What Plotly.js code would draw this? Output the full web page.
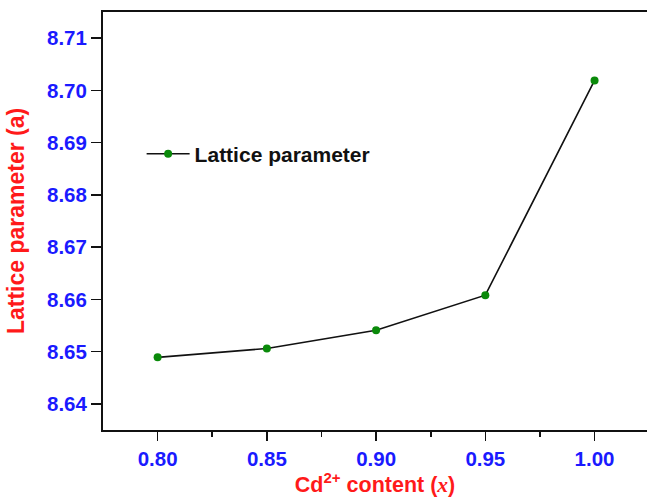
<!DOCTYPE html>
<html>
<head>
<meta charset="utf-8">
<script src="https://cdn.plot.ly/plotly-3.0.1.min.js"></script>
<style>html,body{margin:0;padding:0;background:#fff;}#chart{width:647px;height:497px;}</style>
</head>
<body>
<div id="chart"></div>
<script>
var cdContent = [0.80, 0.85, 0.90, 0.95, 1.00];
var latticeParam = [8.6489, 8.6506, 8.6541, 8.6608, 8.7019];
var xTickVals = [0.80, 0.85, 0.90, 0.95, 1.00];
var xTickText = ["0.80", "0.85", "0.90", "0.95", "1.00"];
var yTickVals = [8.64, 8.65, 8.66, 8.67, 8.68, 8.69, 8.70, 8.71];
var yTickText = ["8.64", "8.65", "8.66", "8.67", "8.68", "8.69", "8.70", "8.71"];

var fontFam = '"Liberation Sans", Arial, Helvetica, sans-serif';

var trace = {
  x: cdContent,
  y: latticeParam,
  type: 'scatter',
  mode: 'lines+markers',
  name: '<b>Lattice parameter</b>',
  line: {color: '#111111', width: 1.6},
  marker: {color: '#0a8a0a', size: 8}
};

var layout = {
  width: 647,
  height: 497,
  margin: {l: 103, r: 0, t: 12, b: 67, pad: 0},
  paper_bgcolor: '#ffffff',
  plot_bgcolor: '#ffffff',
  font: {family: fontFam, color: '#000000'},
  showlegend: true,
  legend: {
    x: 0.071, y: 0.66, xanchor: 'left', yanchor: 'middle',
    bgcolor: 'rgba(0,0,0,0)',
    font: {family: fontFam, size: 21, color: '#111111'},
    itemwidth: 43
  },
  xaxis: {
    range: [0.775, 1.024],
    tickvals: xTickVals,
    ticktext: xTickText,
    ticks: 'outside',
    ticklen: 9,
    tickwidth: 1.6,
    tickcolor: '#111111',
    showline: true,
    linecolor: '#111111',
    linewidth: 2,
    mirror: true,
    showgrid: false,
    zeroline: false,
    tickfont: {family: fontFam, size: 20.5, color: '#1a1aff', weight: 'bold'},
    minor: {tickvals: [0.825, 0.875, 0.925, 0.975], ticks: 'outside', ticklen: 5, tickwidth: 1.6, tickcolor: '#111111'},
    title: {
      text: '<b>Cd<sup>2+</sup> content (<span style="font-family:\'Liberation Serif\', \'Times New Roman\', serif"><i>x</i></span>)</b>',
      font: {family: fontFam, size: 21.5, color: '#ff1a1a'},
      standoff: 10
    }
  },
  yaxis: {
    range: [8.635, 8.715],
    tickvals: yTickVals,
    ticktext: yTickText,
    ticks: 'outside',
    ticklen: 10,
    tickwidth: 1.6,
    tickcolor: '#111111',
    showline: true,
    linecolor: '#111111',
    linewidth: 2,
    mirror: false,
    showgrid: false,
    zeroline: false,
    tickfont: {family: fontFam, size: 20.5, color: '#1a1aff', weight: 'bold'},
    title: {
      text: '<b>Lattice parameter (a)</b>',
      font: {family: fontFam, size: 23, color: '#ff1a1a'},
      standoff: 16
    }
  }
};

Plotly.newPlot('chart', [trace], layout, {displayModeBar: false, staticPlot: true});
</script>
</body>
</html>
